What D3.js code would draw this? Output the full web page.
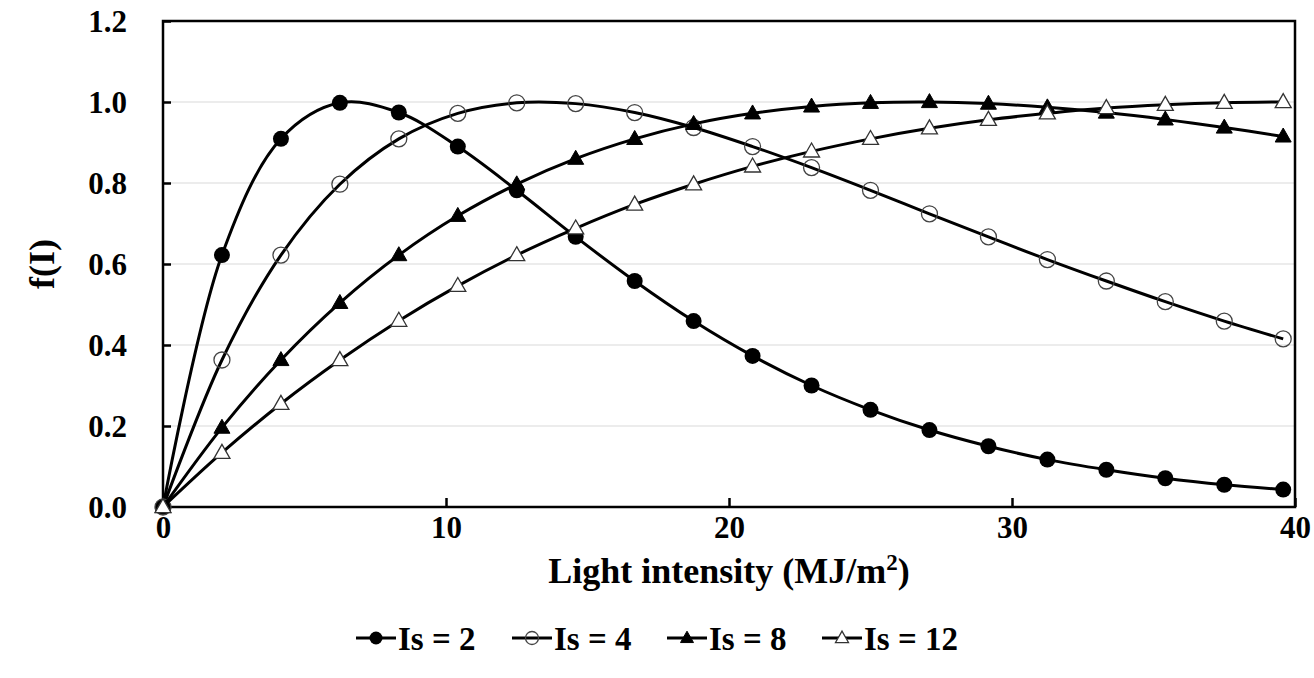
<!DOCTYPE html>
<html>
<head>
<meta charset="utf-8">
<script src="https://cdn.jsdelivr.net/npm/d3@7"></script>
<style>
    body { margin: 0; background: #fff; }
    svg text { font-family: "Liberation Serif", "Times New Roman", serif; font-weight: bold; }
</style>
</head>
<body>
<svg id="chart" width="1314" height="678"></svg>
<script>
const width = 1314;
const height = 678;
const marginLeft = 163;
const marginRight = 19;
const marginTop = 21;
const marginBottom = 171;

// light intensity at each marker (MJ/m2)
const intensity = [
    0, 2.083, 4.167, 6.25, 8.333, 10.417, 12.5, 14.583, 16.667, 18.75,
    20.833, 22.917, 25, 27.083, 29.167, 31.25, 33.333, 35.417, 37.5, 39.583
];

const seriesNames = ["Is = 2", "Is = 4", "Is = 8", "Is = 12"];

const is2 = [
    0, 0.622, 0.909, 0.998, 0.974, 0.890, 0.782, 0.667, 0.558, 0.459,
    0.373, 0.300, 0.240, 0.190, 0.150, 0.117, 0.092, 0.071, 0.055, 0.043
];
const is4 = [
    0, 0.363, 0.622, 0.797, 0.909, 0.972, 0.998, 0.996, 0.974, 0.937,
    0.890, 0.838, 0.782, 0.724, 0.667, 0.611, 0.558, 0.507, 0.459, 0.415
];
const is8 = [
    0, 0.196, 0.363, 0.504, 0.622, 0.719, 0.797, 0.860, 0.909, 0.946,
    0.972, 0.989, 0.998, 1.000, 0.996, 0.987, 0.974, 0.957, 0.937, 0.915
];
const is12 = [
    0, 0.134, 0.255, 0.363, 0.460, 0.546, 0.622, 0.688, 0.747, 0.797,
    0.841, 0.878, 0.909, 0.935, 0.956, 0.972, 0.985, 0.993, 0.998, 1.000
];

const xTicks = [0, 10, 20, 30, 40];
const yTicks = [0, 0.2, 0.4, 0.6, 0.8, 1.0, 1.2];

const series = [is2, is4, is8, is12];
const markerTypes = ["dot", "circle", "triangleFilled", "triangleOpen"];

const svg = d3.select("#chart");

const x = d3.scaleLinear()
    .domain([0, 40])
    .range([marginLeft, width - marginRight]);

const y = d3.scaleLinear()
    .domain([0, 1.2])
    .range([height - marginBottom, marginTop]);

// gridlines
svg.append("g")
    .selectAll("line")
    .data(yTicks.filter(d => d > 0 && d < 1.2))
    .join("line")
    .attr("x1", x(0))
    .attr("x2", x(40))
    .attr("y1", d => y(d))
    .attr("y2", d => y(d))
    .attr("stroke", "#d9d9d9")
    .attr("stroke-width", 1.2);

// y axis, ticks pointing inside
const yAxis = svg.append("g")
    .attr("transform", `translate(${x(0)},0)`)
    .call(d3.axisRight(y).tickValues(yTicks).tickSize(8).tickFormat(d3.format(".1f")));
yAxis.select(".domain").remove();
yAxis.selectAll("line").attr("stroke", "#000").attr("stroke-width", 2.5);
yAxis.selectAll("text")
    .attr("x", -36)
    .attr("dy", "0.34em")
    .attr("text-anchor", "end")
    .attr("font-size", "31px")
    .attr("fill", "#000");

// x axis, ticks pointing inside
const xAxis = svg.append("g")
    .attr("transform", `translate(0,${y(0)})`)
    .call(d3.axisTop(x).tickValues(xTicks).tickSize(9).tickFormat(d3.format("d")));
xAxis.select(".domain").remove();
xAxis.selectAll("line").attr("stroke", "#000").attr("stroke-width", 2.5);
xAxis.selectAll("text")
    .attr("y", 31)
    .attr("dy", "0")
    .attr("font-size", "31px")
    .attr("fill", "#000");

// frame
svg.append("rect")
    .attr("x", x(0))
    .attr("y", y(1.2))
    .attr("width", x(40) - x(0))
    .attr("height", y(0) - y(1.2))
    .attr("fill", "none")
    .attr("stroke", "#000")
    .attr("stroke-width", 2.5);

function drawMarker(g, type, cx, cy, size) {
    if (type == "dot") {
        g.append("circle").attr("cx", cx).attr("cy", cy).attr("r", size)
            .attr("fill", "#000");
    } else if (type == "circle") {
        g.append("circle").attr("cx", cx).attr("cy", cy).attr("r", size)
            .attr("fill", "none").attr("stroke", "#444").attr("stroke-width", 1.3);
    } else {
        const h = size * 1.75;
        const w = size * 2.0;
        const pts = [[cx, cy - h * 0.6], [cx + w / 2, cy + h * 0.4], [cx - w / 2, cy + h * 0.4]];
        const filled = type == "triangleFilled";
        g.append("polygon")
            .attr("points", pts.map(p => p.join(",")).join(" "))
            .attr("fill", filled ? "#000" : "#fff")
            .attr("stroke", filled ? "#000" : "#333")
            .attr("stroke-width", filled ? 1 : 1.3);
    }
}

const line = d3.line()
    .x(d => x(d[0]))
    .y(d => y(d[1]))
    .curve(d3.curveCatmullRom.alpha(0.5));

series.forEach(function (values, i) {
    const pts = intensity.map((v, k) => [v, values[k]]);
    const g = svg.append("g");

    g.append("path")
        .datum(pts)
        .attr("d", line)
        .attr("fill", "none")
        .attr("stroke", "#000")
        .attr("stroke-width", 3);

    pts.forEach(function (p) {
        drawMarker(g, markerTypes[i], x(p[0]), y(p[1]), 8);
    });
});

// axis titles
svg.append("text")
    .attr("x", (x(0) + x(40)) / 2)
    .attr("y", 583)
    .attr("text-anchor", "middle")
    .attr("font-size", "36px")
    .attr("fill", "#000")
    .html('Light intensity (MJ/m<tspan dy="-13" font-size="23px">2</tspan><tspan dy="13">)</tspan>');

svg.append("text")
    .attr("transform", `translate(54,${(y(0) + y(1.2)) / 2}) rotate(-90)`)
    .attr("text-anchor", "middle")
    .attr("font-size", "36px")
    .attr("fill", "#000")
    .text("f(I)");

// legend
const legendX = [356, 512, 667, 822];
const legendY = 638;
seriesNames.forEach(function (name, i) {
    const g = svg.append("g");
    g.append("line")
        .attr("x1", legendX[i])
        .attr("x2", legendX[i] + 40)
        .attr("y1", legendY)
        .attr("y2", legendY)
        .attr("stroke", "#000")
        .attr("stroke-width", 3);
    drawMarker(g, markerTypes[i], legendX[i] + 20, legendY, 6.5);
    g.append("text")
        .attr("x", legendX[i] + 42)
        .attr("y", legendY + 12)
        .attr("font-size", "33px")
        .attr("fill", "#000")
        .text(name);
});
</script>
</body>
</html>
